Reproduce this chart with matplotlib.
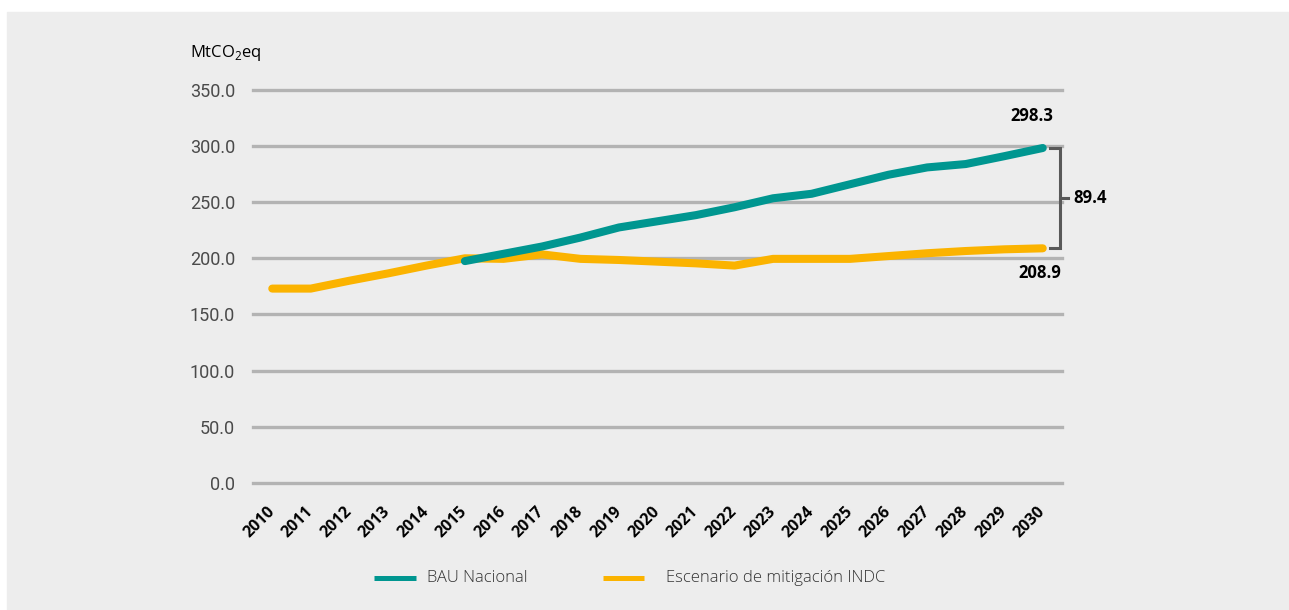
import numpy as np
import matplotlib
matplotlib.use("Agg")
import matplotlib.pyplot as plt
from matplotlib.patches import Rectangle
from matplotlib.lines import Line2D

# --- Data --------------------------------------------------------------------
years = [str(y) for y in range(2010, 2031)]
bau_years = years[5:]  # BAU series starts in 2015
bau = [197.5, 204.0, 210.5, 218.5, 227.5, 233.0, 238.5, 245.5, 253.5,
       257.5, 266.0, 274.5, 281.0, 284.0, 291.0, 298.3]
indc = [173.0, 173.0, 180.0, 186.5, 193.5, 200.0, 199.5, 203.5, 199.5,
        198.5, 197.0, 195.5, 193.5, 199.5, 199.5, 199.5, 202.0, 204.5,
        206.5, 208.0, 208.9]
yticks = [0, 50, 100, 150, 200, 250, 300, 350]
series_names = ["BAU Nacional", "Escenario de mitigación INDC"]

TEAL = "#009690"
ORANGE = "#FBB300"
GRID = "#b3b3b3"
BG = "#ededed"

plt.rcParams["mathtext.fontset"] = "custom"
plt.rcParams["mathtext.rm"] = "Open Sans"

W, H = 1289, 610
fig = plt.figure(figsize=(W / 100, H / 100), dpi=100, facecolor="white")
fig.patches.append(Rectangle((7 / W, 0), 1 - 7 / W, (H - 12) / H,
                             transform=fig.transFigure, color=BG, zorder=-10))

ax = fig.add_axes([253 / W, (H - 482.7) / H, 809 / W, (482.7 - 90) / H])
ax.set_facecolor("none")
for s in ax.spines.values():
    s.set_visible(False)

x_all = np.arange(len(years))
x_bau = np.array([years.index(y) for y in bau_years])

for v in yticks:
    ax.axhline(v, color=GRID, lw=2.4, zorder=1, clip_on=False)

ax.plot(x_all, indc, color=ORANGE, lw=5.8, solid_capstyle="round",
        solid_joinstyle="round", zorder=3, clip_on=False)
ax.plot(x_bau, bau, color=TEAL, lw=5.8, solid_capstyle="round",
        solid_joinstyle="round", zorder=4, clip_on=False)

ax.set_xlim(-0.5, len(years) - 0.5)
ax.set_ylim(0, 350)
ax.set_yticks(yticks)
ax.set_yticklabels([f"{v:.1f}" for v in yticks], family="Roboto",
                   fontweight="normal", fontsize=13, color="#4a4a4a")
ax.set_xticks(x_all)
ax.set_xticklabels(years, rotation=45, ha="right", va="center",
                   rotation_mode="anchor", family="Open Sans",
                   fontweight="bold", fontsize=11.5, color="black")
ax.tick_params(axis="y", length=0, pad=13)
ax.tick_params(axis="x", length=0, pad=19)

# end labels and gap bracket
ax.annotate(f"{bau[-1]:.1f}", xy=(x_bau[-1], bau[-1]), xytext=(-8, 23),
            textcoords="offset points", ha="center", va="center",
            family="Open Sans", fontweight="bold", fontsize=12)
ax.annotate(f"{indc[-1]:.1f}", xy=(x_all[-1], indc[-1]), xytext=(-2, -18),
            textcoords="offset points", ha="center", va="center",
            family="Open Sans", fontweight="bold", fontsize=12)
bx = x_all[-1] + 0.45
ax.plot([bx - 0.25, bx, bx, bx - 0.25], [bau[-1], bau[-1], indc[-1], indc[-1]],
        color="#595959", lw=2.2, clip_on=False, zorder=5,
        solid_joinstyle="miter")
mid = (bau[-1] + indc[-1]) / 2
ax.plot([bx, bx + 0.2], [mid, mid], color="#595959", lw=2.2, clip_on=False)
ax.text(bx + 0.35, mid, f"{bau[-1] - indc[-1]:.1f}", ha="left", va="center",
        family="Open Sans", fontweight="bold", fontsize=12)

fig.text(190 / W, (H - 53) / H, r"MtCO$_\mathrm{2}$eq", ha="left", va="center",
         family="Open Sans", fontsize=12, color="black")

# legend, drawn by hand to sit where the reference has it
ly = (H - 578) / H
for (x0, x1, tx), color, name in zip([(374, 416, 427), (603, 644, 666)],
                                     [TEAL, ORANGE], series_names):
    fig.add_artist(Line2D([x0 / W, x1 / W], [ly, ly], color=color, lw=3.6,
                          solid_capstyle="butt", transform=fig.transFigure))
    fig.text(tx / W, ly, name, ha="left", va="center", family="Open Sans",
             fontweight="light", fontsize=12, color="#333333")

fig.savefig("out.png", dpi=100, facecolor="white")
